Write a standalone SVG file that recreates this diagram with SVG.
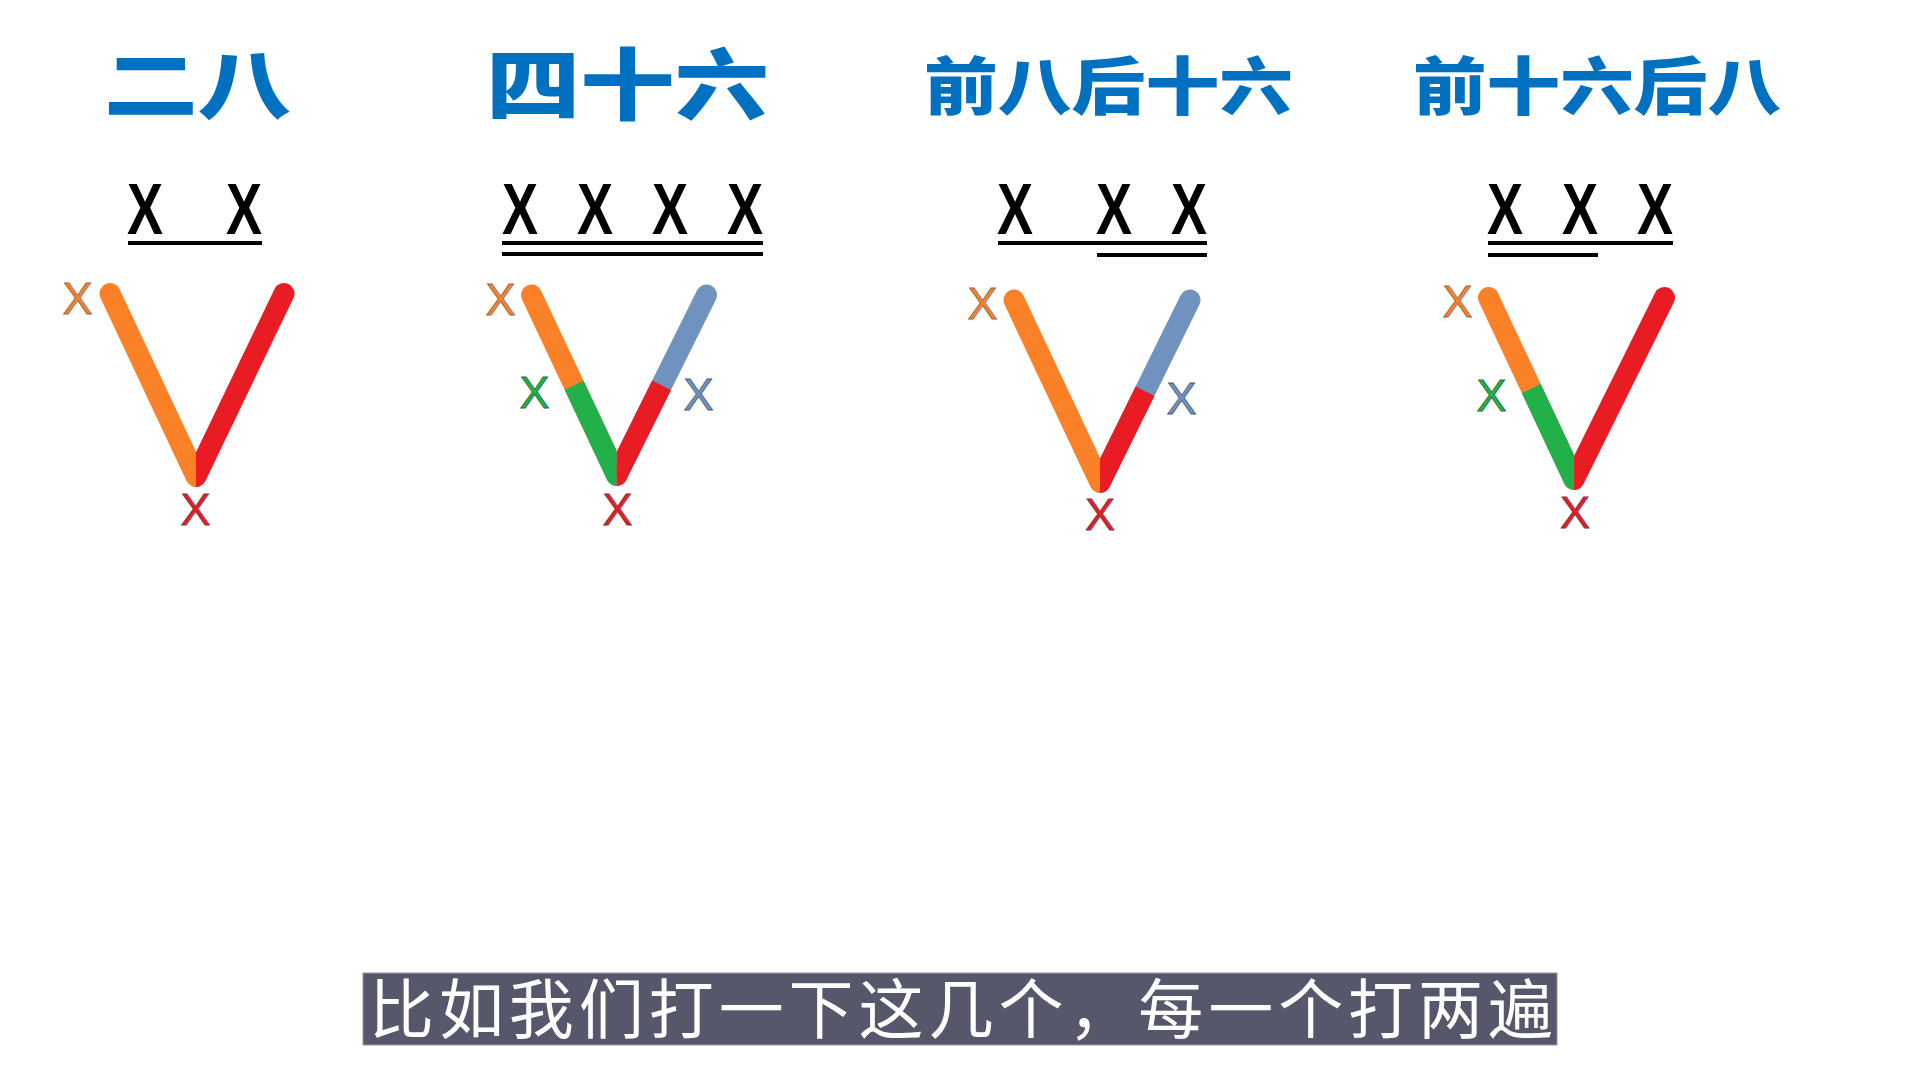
<svg xmlns="http://www.w3.org/2000/svg" width="1920" height="1080" viewBox="0 0 1920 1080">
<style>
.title{font-family:"Noto Sans CJK SC","Noto Sans CJK JP",sans-serif;font-weight:900;fill:#0070C0}
.bx{font-family:"Liberation Sans",Arial,sans-serif;font-weight:bold;font-size:72px;fill:#000}
.sx{font-family:"Liberation Sans",Arial,sans-serif;font-size:45px;text-anchor:middle;stroke-width:0.8}
.ul{stroke:#000;stroke-width:4;fill:none}
.arm{fill:none;stroke-width:21;stroke-linecap:round}
.seg{fill:none;stroke-width:21;stroke-linecap:butt}
.o{stroke:#FA8128}.of{fill:#FA8128;stroke:#8a6a5a}
.r{stroke:#E91C24}.rf{fill:#E91C24;stroke:#7a3a4a}
.g{stroke:#22B04B}.gf{fill:#22B04B;stroke:#2a6a3a}
.b{stroke:#7092BE}.bf{fill:#7092BE;stroke:#4a5a7a}
.sub{font-family:"Noto Sans CJK SC","Noto Sans CJK JP",sans-serif;font-weight:400;font-size:65px;fill:#fff}
</style>
<defs>
<clipPath id="c1L" clipPathUnits="userSpaceOnUse"><rect x="0" y="250" width="196" height="270"/></clipPath>
<clipPath id="c1R" clipPathUnits="userSpaceOnUse"><rect x="196" y="250" width="200" height="270"/></clipPath>
<clipPath id="c2L" clipPathUnits="userSpaceOnUse"><rect x="400" y="250" width="216.7" height="270"/></clipPath>
<clipPath id="c2R" clipPathUnits="userSpaceOnUse"><rect x="616.7" y="250" width="200" height="270"/></clipPath>
<clipPath id="c3L" clipPathUnits="userSpaceOnUse"><rect x="880" y="250" width="220" height="270"/></clipPath>
<clipPath id="c3R" clipPathUnits="userSpaceOnUse"><rect x="1100" y="250" width="200" height="270"/></clipPath>
<clipPath id="c4L" clipPathUnits="userSpaceOnUse"><rect x="1370" y="250" width="204" height="270"/></clipPath>
<clipPath id="c4R" clipPathUnits="userSpaceOnUse"><rect x="1574" y="250" width="200" height="270"/></clipPath>
</defs>
<rect width="1920" height="1080" fill="#fff"/>

<g id="panel-erba">
<text class="title" x="104" y="113" font-size="76" textLength="187" lengthAdjust="spacingAndGlyphs">二八</text>
<text class="bx" x="127" y="234" textLength="36" lengthAdjust="spacingAndGlyphs">X</text>
<text class="bx" x="226" y="234" textLength="36" lengthAdjust="spacingAndGlyphs">X</text>
<line class="ul" x1="128" y1="243" x2="262" y2="243"/>
<line class="arm o" x1="110" y1="293.5" x2="196" y2="476.5" clip-path="url(#c1L)"/>
<line class="arm r" x1="196" y1="476.5" x2="284" y2="293.5" clip-path="url(#c1R)"/>
<text class="sx of" x="77.5" y="314">X</text>
<text class="sx rf" x="195.5" y="525">X</text>
</g>

<g id="panel-sishiliu">
<text class="title" x="486" y="114" font-size="78" textLength="283" lengthAdjust="spacingAndGlyphs">四十六</text>
<text class="bx" x="502" y="234" textLength="36" lengthAdjust="spacingAndGlyphs">X</text>
<text class="bx" x="577" y="234" textLength="36" lengthAdjust="spacingAndGlyphs">X</text>
<text class="bx" x="652" y="234" textLength="36" lengthAdjust="spacingAndGlyphs">X</text>
<text class="bx" x="727" y="234" textLength="36" lengthAdjust="spacingAndGlyphs">X</text>
<line class="ul" x1="502" y1="243" x2="763" y2="243"/>
<line class="ul" x1="502" y1="254" x2="763" y2="254"/>
<g clip-path="url(#c2L)">
<line class="arm o" x1="531.5" y1="295" x2="616.7" y2="475.5"/>
<line class="seg g" x1="574.1" y1="385.25" x2="616.7" y2="475.5"/>
<circle cx="616.7" cy="475.5" r="10.5" fill="#22B04B"/>
</g>
<g clip-path="url(#c2R)">
<line class="arm b" x1="616.7" y1="475.5" x2="706.5" y2="295"/>
<line class="seg r" x1="616.7" y1="475.5" x2="661.6" y2="385.25"/>
<circle cx="616.7" cy="475.5" r="10.5" fill="#E91C24"/>
</g>
<text class="sx of" x="500.5" y="315">X</text>
<text class="sx gf" x="534.5" y="408">X</text>
<text class="sx bf" x="698.5" y="410">X</text>
<text class="sx rf" x="617.5" y="525">X</text>
</g>

<g id="panel-qianbahoushiliu">
<text class="title" x="924" y="109" font-size="63" textLength="369" lengthAdjust="spacingAndGlyphs">前八后十六</text>
<text class="bx" x="997" y="234" textLength="36" lengthAdjust="spacingAndGlyphs">X</text>
<text class="bx" x="1096" y="234" textLength="36" lengthAdjust="spacingAndGlyphs">X</text>
<text class="bx" x="1171" y="234" textLength="36" lengthAdjust="spacingAndGlyphs">X</text>
<line class="ul" x1="998" y1="243" x2="1207" y2="243"/>
<line class="ul" x1="1097" y1="255" x2="1207" y2="255"/>
<line class="arm o" x1="1014" y1="300" x2="1100" y2="482.5" clip-path="url(#c3L)"/>
<g clip-path="url(#c3R)">
<line class="arm b" x1="1100" y1="482.5" x2="1190" y2="300"/>
<line class="seg r" x1="1100" y1="482.5" x2="1145" y2="391.25"/>
<circle cx="1100" cy="482.5" r="10.5" fill="#E91C24"/>
</g>
<text class="sx of" x="982.5" y="319">X</text>
<text class="sx bf" x="1181.5" y="414">X</text>
<text class="sx rf" x="1100" y="530">X</text>
</g>

<g id="panel-qianshiliuhouba">
<text class="title" x="1413" y="109" font-size="63" textLength="368" lengthAdjust="spacingAndGlyphs">前十六后八</text>
<text class="bx" x="1487" y="234" textLength="36" lengthAdjust="spacingAndGlyphs">X</text>
<text class="bx" x="1562" y="234" textLength="36" lengthAdjust="spacingAndGlyphs">X</text>
<text class="bx" x="1637" y="234" textLength="36" lengthAdjust="spacingAndGlyphs">X</text>
<line class="ul" x1="1488" y1="243" x2="1673" y2="243"/>
<line class="ul" x1="1488" y1="255" x2="1598" y2="255"/>
<g clip-path="url(#c4L)">
<line class="arm o" x1="1488.5" y1="297.5" x2="1574" y2="479.5"/>
<line class="seg g" x1="1531.25" y1="388.5" x2="1574" y2="479.5"/>
<circle cx="1574" cy="479.5" r="10.5" fill="#22B04B"/>
</g>
<line class="arm r" x1="1574" y1="479.5" x2="1664.5" y2="297.5" clip-path="url(#c4R)"/>
<text class="sx of" x="1457.5" y="317">X</text>
<text class="sx gf" x="1491.5" y="411">X</text>
<text class="sx rf" x="1575" y="528">X</text>
</g>

<g id="connectors"></g>

<g id="subtitle">
<rect x="363" y="973" width="1194" height="72" fill="#56576A" stroke="#9A9AA6" stroke-width="1"/>
<text class="sub" x="369" y="1033" textLength="1184" lengthAdjust="spacing">比如我们打一下这几个，每一个打两遍</text>
</g>
</svg>
